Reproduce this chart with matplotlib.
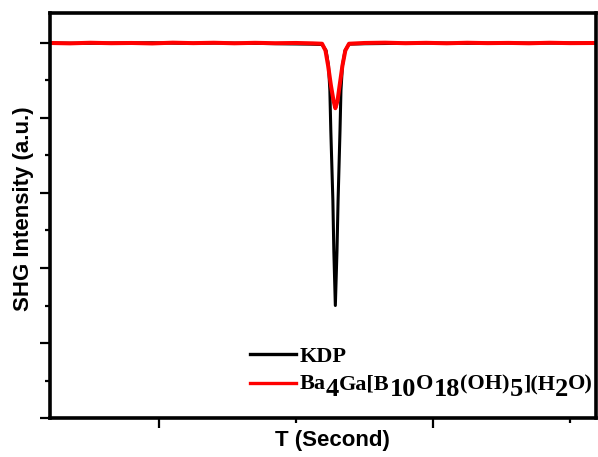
import matplotlib
matplotlib.use('Agg')
import matplotlib.pyplot as plt
from matplotlib.ticker import FixedLocator, MultipleLocator, NullFormatter

plt.rcParams['font.family'] = ['Liberation Sans', 'DejaVu Sans']

# time (s) and SHG intensity
kdp_t = [20, 45, 70, 95, 120, 145, 170, 195, 210, 219.0, 221.9, 223.7, 224.7,
         225.4, 226.9, 227.6, 228.7, 229.9, 230.7, 232.1, 232.8, 233.9, 235.8,
         238.7, 250, 275, 300, 325, 350, 375, 400, 420]
kdp_i = [5.0, 4.995, 5.0, 5.003, 4.995, 5.0, 4.995, 4.988, 4.985, 4.98, 4.90,
         4.70, 4.37, 3.83, 2.90, 2.23, 1.50, 2.23, 2.90, 3.83, 4.37, 4.70, 4.90,
         4.985, 4.99, 4.995, 5.0, 4.995, 5.0, 4.998, 5.0, 5.0]

bgbo_t = [20, 35, 50, 65, 80, 95, 110, 125, 140, 155, 170, 185, 200, 212,
          219.0, 221.5, 223.4, 225.5, 227.4, 228.7, 230.3, 231.8, 233.9, 236.0,
          238.7, 250, 265, 280, 295, 310, 325, 340, 355, 370, 385, 400, 420]
bgbo_i = [5.0, 4.995, 5.003, 4.997, 5.0, 4.994, 5.004, 4.998, 5.003, 4.996,
          5.002, 4.997, 5.0, 4.995, 4.99, 4.90, 4.70, 4.43, 4.23, 4.13, 4.23,
          4.43, 4.70, 4.90, 4.99, 5.0, 5.004, 4.997, 5.002, 4.996, 5.003, 4.998,
          5.001, 4.996, 5.003, 4.998, 5.0]

# formula pieces: (text, is_subscript)
formula = [('Ba', 0), ('4', 1), ('Ga[B', 0), ('10', 1), ('O', 0), ('18', 1),
           ('(OH)', 0), ('5', 1), ('](H', 0), ('2', 1), ('O)', 0)]

fig = plt.figure(figsize=(5.98, 4.57), dpi=100)
ax = fig.add_axes([0.0836, 0.0853, 0.9131, 0.8863])

ax.plot(kdp_t, kdp_i, color='black', lw=2.2, label='KDP')
ax.plot(bgbo_t, bgbo_i, color='red', lw=2.9, label=' ')

ax.set_xlim(20.4, 419)
ax.set_ylim(0, 5.4)
ax.xaxis.set_major_locator(FixedLocator([100, 300]))
ax.xaxis.set_minor_locator(FixedLocator([200, 400]))
ax.yaxis.set_major_locator(MultipleLocator(1))
ax.yaxis.set_minor_locator(MultipleLocator(0.5))
ax.xaxis.set_major_formatter(NullFormatter())
ax.yaxis.set_major_formatter(NullFormatter())
ax.tick_params(which='major', length=7, width=1.6, direction='out')
ax.tick_params(which='minor', length=3.5, width=1.6, direction='out')
for s in ax.spines.values():
    s.set_linewidth(2.6)

ax.set_xlabel('T (Second)', fontsize=16, fontweight='bold')
ax.set_ylabel('SHG Intensity (a.u.)', fontsize=16, fontweight='bold')
ax.xaxis.set_label_coords(0.518, -0.03)
ax.yaxis.set_label_coords(-0.03, 0.517)

leg_font = {'family': 'Liberation Serif', 'weight': 'bold', 'size': 16}
leg = ax.legend(loc='center left', bbox_to_anchor=(0.3655, 0.1165), frameon=False,
                prop=leg_font, handlelength=2.1, handletextpad=0.15,
                labelspacing=0.38, borderpad=0, borderaxespad=0)
for h in leg.get_lines():
    h.set_linewidth(2.4)

# write the formula piece by piece, subscripts nearly full size as in the original
prev = ax.text(0.458, 0.059, '', transform=ax.transAxes, ha='left', va='bottom')
for txt, sub in formula:
    prev = ax.annotate(txt, xy=(1, 0), xycoords=prev,
                       xytext=(0, -5 if sub else 0), textcoords='offset points',
                       ha='left', va='bottom', family='Liberation Serif',
                       weight='bold', fontsize=19 if sub else 16)
    if sub:
        # back up to the main baseline for the next piece
        prev = ax.annotate('', xy=(1, 0), xycoords=prev, xytext=(0, 5),
                           textcoords='offset points', ha='left', va='bottom')

fig.savefig('out.png', dpi=100)
